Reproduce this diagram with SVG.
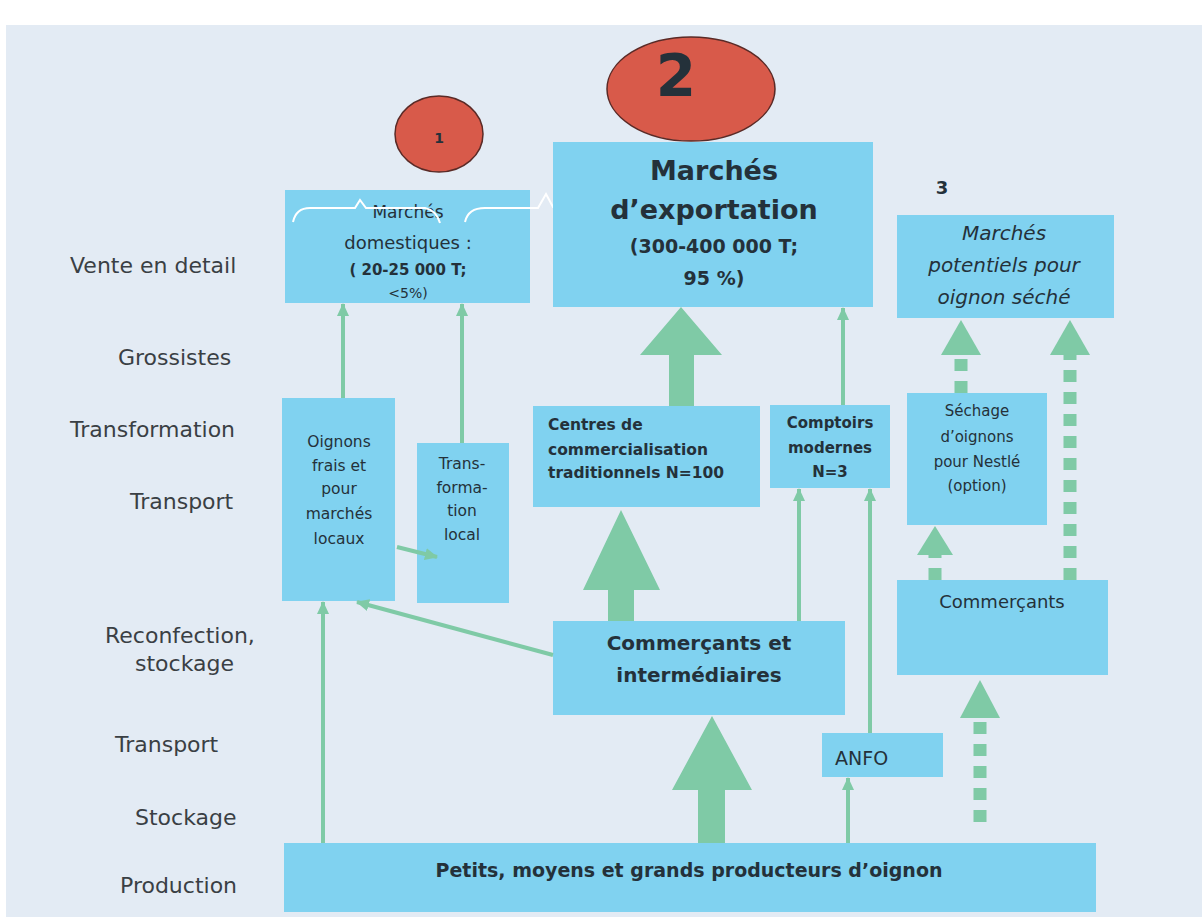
<svg xmlns="http://www.w3.org/2000/svg" width="1202" height="917" viewBox="0 0 1202 917">
<defs>
<style>
.bg{fill:#e3ebf4}
.box{fill:#80d2f0}
.t{font-family:"DejaVu Sans",Verdana,sans-serif;fill:#24313a}
.lbl{font-family:"DejaVu Sans",Verdana,sans-serif;fill:#3a3f44;font-size:22px}
.b{font-weight:bold}
.c{text-anchor:middle}
.e{text-anchor:end}
.thin{stroke:#7fcaa6;stroke-width:4;fill:none;marker-end:url(#ah)}
.fat{fill:#7fcaa6}
.dash{stroke:#7fcaa6;stroke-width:13;stroke-dasharray:12 10;fill:none}
.ell{fill:#d85a4a;stroke:#5a2a26;stroke-width:1.5}
</style>
<marker id="ah" markerUnits="userSpaceOnUse" markerWidth="14" markerHeight="14" refX="12" refY="7" orient="auto">
<path d="M0,1 L13,7 L0,13 Z" fill="#7fcaa6"/>
</marker>
</defs>
<rect x="0" y="0" width="1202" height="917" fill="#ffffff"/>
<rect class="bg" x="6" y="25" width="1196" height="892"/>

<g id="labels">
<text class="lbl" x="70" y="273">Vente en detail</text>
<text class="lbl" x="118" y="365">Grossistes</text>
<text class="lbl" x="70" y="437">Transformation</text>
<text class="lbl" x="130" y="509">Transport</text>
<text class="lbl" x="105" y="643">Reconfection,</text>
<text class="lbl" x="135" y="671">stockage</text>
<text class="lbl" x="115" y="752">Transport</text>
<text class="lbl" x="135" y="825">Stockage</text>
<text class="lbl" x="120" y="893">Production</text>
</g>

<g id="circle1">
<ellipse class="ell" cx="439" cy="134" rx="44" ry="38"/>
<text class="t b c" x="439" y="143" font-size="14">1</text>
</g>
<g id="circle2">
<ellipse class="ell" cx="691" cy="89" rx="84" ry="52"/>
<text class="t b c" x="676" y="96" font-size="58" fill="#1a1a1a">2</text>
</g>

<g id="domestiques">
<rect class="box" x="285" y="190" width="245" height="113"/>
<text class="t c" x="408" y="218" font-size="17">Marchés</text>
<text class="t c" x="408" y="249" font-size="18">domestiques :</text>
<text class="t b c" x="408" y="275" font-size="15">( 20-25 000 T;</text>
<text class="t c" x="408" y="298" font-size="14">&lt;5%)</text>
<path d="M293,222 Q296,208 310,208 L355,208 L360,200 L366,208 L425,208 Q436,210 440,223 M465,222 Q468,208 485,208 L538,208 L546,194 L553,207 L620,205" fill="none" stroke="#ffffff" stroke-width="2"/>
</g>

<g id="exportation">
<rect class="box" x="553" y="142" width="320" height="165"/>
<text class="t b c" x="714" y="180" font-size="27">Marchés</text>
<text class="t b c" x="714" y="219" font-size="27">d’exportation</text>
<text class="t b c" x="714" y="253" font-size="19">(300-400 000 T;</text>
<text class="t b c" x="714" y="285" font-size="19">95 %)</text>
</g>

<g id="num3">
<text class="t b c" x="942" y="194" font-size="18">3</text>
</g>

<g id="potentiels">
<rect class="box" x="897" y="215" width="217" height="103"/>
<text class="t c" x="1004" y="240" font-size="20" font-style="italic">Marchés</text>
<text class="t c" x="1004" y="272" font-size="20" font-style="italic">potentiels pour</text>
<text class="t c" x="1004" y="304" font-size="20" font-style="italic">oignon séché</text>
</g>

<g id="oignons-frais">
<rect class="box" x="282" y="398" width="113" height="203"/>
<text class="t c" x="339" y="447" font-size="15.5">Oignons</text>
<text class="t c" x="339" y="471" font-size="15.5">frais et</text>
<text class="t c" x="339" y="494" font-size="15.5">pour</text>
<text class="t c" x="339" y="519" font-size="15.5">marchés</text>
<text class="t c" x="339" y="544" font-size="15.5">locaux</text>
</g>

<g id="transformation-local">
<rect class="box" x="417" y="443" width="92" height="160"/>
<text class="t c" x="462" y="469" font-size="15.5">Trans-</text>
<text class="t c" x="462" y="493" font-size="15.5">forma-</text>
<text class="t c" x="462" y="516" font-size="15.5">tion</text>
<text class="t c" x="462" y="540" font-size="15.5">local</text>
</g>

<g id="centres">
<rect class="box" x="533" y="406" width="227" height="101"/>
<text class="t b" x="548" y="430" font-size="15.5">Centres de</text>
<text class="t b" x="548" y="455" font-size="15.5">commercialisation</text>
<text class="t b" x="548" y="478" font-size="15.5">traditionnels N=100</text>
</g>

<g id="comptoirs">
<rect class="box" x="770" y="405" width="120" height="83"/>
<text class="t b c" x="830" y="428" font-size="15">Comptoirs</text>
<text class="t b c" x="830" y="453" font-size="15">modernes</text>
<text class="t b c" x="830" y="477" font-size="15">N=3</text>
</g>

<g id="sechage">
<rect class="box" x="907" y="393" width="140" height="132"/>
<text class="t c" x="977" y="416" font-size="15">Séchage</text>
<text class="t c" x="977" y="442" font-size="15">d’oignons</text>
<text class="t c" x="977" y="467" font-size="15">pour Nestlé</text>
<text class="t c" x="977" y="491" font-size="15">(option)</text>
</g>

<g id="commercants">
<rect class="box" x="897" y="580" width="211" height="95"/>
<text class="t c" x="1002" y="608" font-size="18">Commerçants</text>
</g>

<g id="commercants-intermediaires">
<rect class="box" x="553" y="621" width="292" height="94"/>
<text class="t b c" x="699" y="650" font-size="20">Commerçants et</text>
<text class="t b c" x="699" y="682" font-size="20">intermédiaires</text>
</g>

<g id="anfo">
<rect class="box" x="822" y="733" width="121" height="44"/>
<text class="t" x="835" y="765" font-size="19">ANFO</text>
</g>

<g id="producteurs">
<rect class="box" x="284" y="843" width="812" height="69"/>
<text class="t b c" x="689" y="877" font-size="19">Petits, moyens et grands producteurs d’oignon</text>
</g>

<g id="connectors">
<line class="thin" x1="343" y1="398" x2="343" y2="304"/>
<line class="thin" x1="462" y1="443" x2="462" y2="304"/>
<line class="thin" x1="397" y1="547" x2="437" y2="557"/>
<line class="thin" x1="553" y1="655" x2="357" y2="602"/>
<line class="thin" x1="323" y1="843" x2="323" y2="602"/>
<line class="thin" x1="843" y1="405" x2="843" y2="308"/>
<line class="thin" x1="799" y1="621" x2="799" y2="489"/>
<line class="thin" x1="870" y1="733" x2="870" y2="489"/>
<line class="thin" x1="848" y1="843" x2="848" y2="778"/>
<polygon class="fat" points="669,406 669,355 640,355 681,307 722,355 694,355 694,406"/>
<polygon class="fat" points="608,621 608,590 583,590 621,510 660,590 634,590 634,621"/>
<polygon class="fat" points="698,843 698,790 672,790 712,716 752,790 725,790 725,843"/>
<line class="dash" x1="935" y1="580" x2="935" y2="555"/>
<polygon class="fat" points="917,555 935,526 953,555"/>
<line class="dash" x1="961" y1="393" x2="961" y2="355"/>
<polygon class="fat" points="941,355 961,320 981,355"/>
<line class="dash" x1="1070" y1="580" x2="1070" y2="355"/>
<polygon class="fat" points="1050,355 1070,320 1090,355"/>
<line class="dash" x1="980" y1="822" x2="980" y2="718"/>
<polygon class="fat" points="960,718 980,680 1000,718"/>
</g>
</svg>
